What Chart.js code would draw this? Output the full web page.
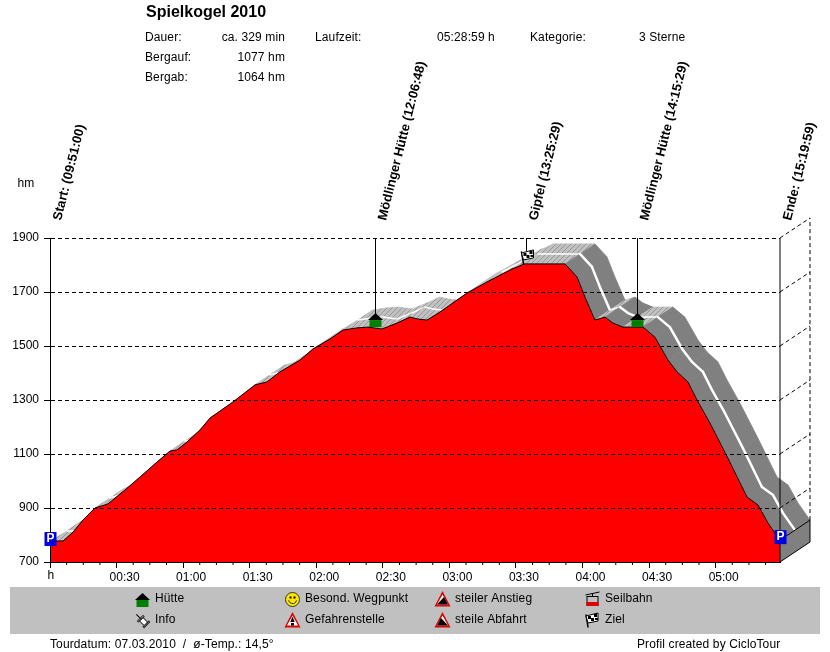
<!DOCTYPE html>
<html lang="de">
<head>
<meta charset="UTF-8">
<title>Spielkogel 2010</title>
<style>
    html, body { margin: 0; padding: 0; background: #fff; }
    canvas { display: block; }
</style>
</head>
<body>
<canvas id="profil" width="830" height="652"></canvas>
<script src="https://cdn.jsdelivr.net/npm/chart.js"></script>
<script>
// profile: minutes since start, height in hm
const minutes = [0, 1, 5.9, 10.4, 14.9, 20.3, 26.1, 33.8, 40.6, 48.2, 54.1, 57.2, 61.7, 67.6, 72.1, 82.5, 92.4, 97.8,
    103.6, 112.7, 118.5, 126.2, 132, 138.3, 143.3, 149.6, 156.4, 162.2, 165.8, 169.9, 175.8, 187.9, 196.9, 208.2,
    212.7, 213.2, 232.1, 237.5, 241.1, 245.6, 250.1, 253.7, 258.2, 267.2, 272.6, 278.5, 282.6, 287.5, 291.6,
    297.4, 305.5, 314.1, 319.1, 323.6, 329];
const heights = [774, 778, 778, 811, 856, 900, 915, 967, 1015, 1070, 1111, 1115, 1144, 1189, 1233, 1293, 1356, 1367,
    1404, 1448, 1489, 1526, 1559, 1567, 1570, 1563, 1585, 1607, 1600, 1596, 1626, 1696, 1737, 1785,
    1800, 1804, 1804, 1756, 1681, 1596, 1607, 1585, 1570, 1570, 1533, 1448, 1404, 1367, 1300,
    1215, 1085, 941, 911, 844, 781];

const xTickMinutes = [0, 30, 60, 90, 120, 150, 180, 210, 240, 270, 300];
const xTickLabels = ['h', '00:30', '01:00', '01:30', '02:00', '02:30', '03:00', '03:30', '04:00', '04:30', '05:00'];
const yTicks = [700, 900, 1100, 1300, 1500, 1700, 1900];

const markerLabels = ['Start: (09:51:00)', 'Mödlinger Hütte (12:06:48)', 'Gipfel (13:25:29)', 'Mödlinger Hütte (14:15:29)', 'Ende: (15:19:59)'];
const markerMinutes = [0, 146.4, 214.5, 264.4, 329];
const markerHeights = [774, 1570, 1804, 1570, 781];
const markerIcons = ['park', 'hut', 'flag', 'hut', 'park'];

const FONT = '"Liberation Sans", Arial, sans-serif';
const BAND_X = 30, BAND_Y = -20;   // depth of the 3d band in pixels

function text(ctx, str, x, y, align, font) {
    ctx.font = font || '12px ' + FONT;
    ctx.letterSpacing = font ? '0px' : '0.12px';
    ctx.fillStyle = '#000';
    ctx.textAlign = align || 'left';
    ctx.textBaseline = 'middle';
    ctx.fillText(str, x, y);
    ctx.letterSpacing = '0px';
}

function line(ctx, x0, y0, x1, y1, dash) {
    ctx.setLineDash(dash || []);
    ctx.lineWidth = 1;
    ctx.strokeStyle = '#000';
    ctx.beginPath();
    ctx.moveTo(x0, y0);
    ctx.lineTo(x1, y1);
    ctx.stroke();
    ctx.setLineDash([]);
}

function poly(ctx, pts, fill) {
    ctx.fillStyle = fill;
    ctx.beginPath();
    pts.forEach((p, i) => i ? ctx.lineTo(p[0], p[1]) : ctx.moveTo(p[0], p[1]));
    ctx.closePath();
    ctx.fill();
}

// icons
function hut(ctx, x, y) {       // x centre, y bottom
    ctx.fillStyle = '#008000';
    ctx.fillRect(x - 6, y - 7, 12, 7);
    poly(ctx, [[x, y - 14], [x - 7.5, y - 7], [x + 7.5, y - 7]], '#000');
}

function flag(ctx, x, y) {      // x,y = foot of the pole
    ctx.lineCap = 'round';
    ctx.strokeStyle = '#000';
    ctx.lineWidth = 1.5;
    ctx.beginPath(); ctx.moveTo(x, y); ctx.lineTo(x - 2, y - 12); ctx.stroke();
    ctx.lineCap = 'butt';
    poly(ctx, [[x - 2, y - 11], [x + 10, y - 14], [x + 10, y - 6], [x, y - 4]], '#fff');
    ctx.lineWidth = 1;
    ctx.beginPath();
    ctx.moveTo(x - 2, y - 11); ctx.lineTo(x + 10, y - 14); ctx.lineTo(x + 10, y - 6); ctx.lineTo(x, y - 4); ctx.closePath();
    ctx.stroke();
    ctx.fillStyle = '#000';
    ctx.fillRect(x, y - 11, 3, 3);
    ctx.fillRect(x + 6, y - 13, 3, 3);
    ctx.fillRect(x + 3, y - 9, 3, 3);
    ctx.fillRect(x + 7, y - 9, 3, 2);
}

function park(ctx, x, y) {
    ctx.fillStyle = '#0000e0';
    ctx.fillRect(x - 6, y - 7, 12, 14);
    ctx.fillStyle = '#fff';
    ctx.font = 'bold 12px ' + FONT;
    ctx.textAlign = 'center';
    ctx.textBaseline = 'middle';
    ctx.fillText('P', x, y);
}

function smiley(ctx, x, y) {
    ctx.fillStyle = '#ffe600';
    ctx.strokeStyle = '#333';
    ctx.lineWidth = 1;
    ctx.beginPath(); ctx.arc(x, y, 7, 0, Math.PI * 2); ctx.fill(); ctx.stroke();
    ctx.fillStyle = '#000';
    ctx.fillRect(x - 3, y - 3, 2, 2);
    ctx.fillRect(x + 1, y - 3, 2, 2);
    ctx.beginPath(); ctx.arc(x, y, 4, 0.2, Math.PI - 0.2); ctx.stroke();
}

function warn(ctx, x, y, kind) {
    poly(ctx, [[x, y - 8], [x + 8, y + 7.5], [x - 8, y + 7.5]], '#e00000');
    poly(ctx, [[x, y - 4.5], [x + 5.5, y + 5.5], [x - 5.5, y + 5.5]], '#fff');
    if (kind === 'danger') {
        poly(ctx, [[x, y - 3.5], [x + 2.2, y + 2], [x - 2.2, y + 2]], '#000');
        ctx.fillStyle = '#000';
        ctx.fillRect(x - 1.5, y + 3, 3, 2.5);
    } else if (kind === 'up') {
        poly(ctx, [[x - 5.5, y + 5.5], [x + 5.5, y + 5.5], [x + 1.5, y - 2]], '#000');
    } else {
        poly(ctx, [[x - 5.5, y + 5.5], [x + 5.5, y + 5.5], [x - 1.5, y - 2]], '#000');
    }
}

function cableCar(ctx, x, y) {
    line(ctx, x - 7, y - 4, x + 7, y - 7);
    line(ctx, x, y - 6, x, y - 3);
    ctx.strokeStyle = '#000';
    ctx.lineWidth = 1;
    ctx.strokeRect(x - 5.5, y - 2.5, 11, 9);
    ctx.fillStyle = '#e00000';
    ctx.fillRect(x - 6, y + 3, 12, 4);
}

function pin(ctx, x, y) {
    ctx.save();
    ctx.translate(x, y);
    ctx.rotate(Math.PI * 3 / 4);
    ctx.fillStyle = '#fff';
    ctx.strokeStyle = '#333';
    ctx.lineWidth = 1;
    ctx.fillRect(-2.5, -6, 5, 7);
    ctx.strokeRect(-2.5, -6, 5, 7);
    ctx.strokeRect(-4, -7, 8, 1.5);
    ctx.strokeRect(-4, 1, 8, 1.5);
    line(ctx, 0, 2, 0, 8);
    ctx.restore();
}

// silver with thin grey diagonal stripes
function hatchPattern(ctx) {
    const c = document.createElement('canvas');
    c.width = 5; c.height = 5;
    const p = c.getContext('2d');
    p.fillStyle = '#c0c0c0';
    p.fillRect(0, 0, 5, 5);
    p.fillStyle = '#989898';
    for (let i = 0; i < 5; i++) p.fillRect(i, 4 - i, 1, 1);
    return ctx.createPattern(c, 'repeat');
}

const bandPlugin = {
    id: 'band',
    beforeDatasetsDraw(chart) {
        const ctx = chart.ctx, xs = chart.scales.x, ys = chart.scales.y;
        const hatch = hatchPattern(ctx);
        const mid = [BAND_X / 2, BAND_Y / 2];
        for (let i = 0; i < minutes.length - 1; i++) {
            const x0 = xs.getPixelForValue(minutes[i]), y0 = ys.getPixelForValue(heights[i]);
            const x1 = xs.getPixelForValue(minutes[i + 1]), y1 = ys.getPixelForValue(heights[i + 1]);
            const slope = (y0 - y1) / (x1 - x0);
            const fill = slope > 0.55 ? '#c0c0c0' : slope > -0.25 ? hatch : '#808080';
            poly(ctx, [[x0, y0], [x1, y1], [x1 + BAND_X, y1 + BAND_Y], [x0 + BAND_X, y0 + BAND_Y]], fill);
            // close the antialiasing seams between neighbouring strips
            ctx.strokeStyle = fill;
            ctx.lineWidth = 0.8;
            ctx.stroke();
            if (slope <= 0.55) {
                ctx.strokeStyle = '#fff';
                ctx.lineWidth = slope < -0.25 ? 2.5 : 1.5;
                ctx.lineCap = 'round';
                ctx.beginPath();
                ctx.moveTo(x0 + mid[0], y0 + mid[1]);
                ctx.lineTo(x1 + mid[0], y1 + mid[1]);
                ctx.stroke();
                ctx.lineCap = 'butt';
            }
        }
    }
};

const overlayPlugin = {
    id: 'overlay',
    afterDraw(chart) {
        const ctx = chart.ctx, xs = chart.scales.x, ys = chart.scales.y;
        const left = xs.left, right = xs.right, top = ys.top, bottom = ys.bottom;

        // right hand wall of the 3d box
        const endY = ys.getPixelForValue(heights[heights.length - 1]);
        poly(ctx, [[right, bottom], [right + BAND_X, bottom + BAND_Y], [right + BAND_X, endY + BAND_Y], [right, endY]], '#808080');
        line(ctx, right, endY, right + BAND_X, endY + BAND_Y);
        line(ctx, right, bottom, right + BAND_X, bottom + BAND_Y);
        line(ctx, right + BAND_X, bottom + BAND_Y, right + BAND_X, endY + BAND_Y);
        line(ctx, right + BAND_X, endY + BAND_Y, right + BAND_X, top + BAND_Y, [4, 3]);
        yTicks.slice(1).forEach(v => {
            const y = ys.getPixelForValue(v);
            line(ctx, right, y, right + BAND_X, y + BAND_Y, [4, 3]);
        });
        line(ctx, right, top, right, bottom);

        // small ticks between the labelled ones
        for (let m = 7.5; m < minutes[minutes.length - 1]; m += 7.5) {
            if (m % 30) line(ctx, xs.getPixelForValue(m), bottom, xs.getPixelForValue(m), bottom + 3);
        }

        // markers and their slanted labels
        markerLabels.forEach((label, i) => {
            const x = Math.round(xs.getPixelForValue(markerMinutes[i])) + 0.5;
            const y = ys.getPixelForValue(markerHeights[i]);
            if (markerIcons[i] === 'hut') {
                line(ctx, x, top, x, y - 12);
                hut(ctx, x, y);
            } else if (markerIcons[i] === 'flag') {
                line(ctx, x, top, x, y - 13);
                flag(ctx, x - 3, y);
            } else {
                park(ctx, x, y - 3);
            }
            ctx.save();
            ctx.translate(x + 10.5, 221);
            ctx.rotate(-76 * Math.PI / 180);
            ctx.font = 'bold 13px ' + FONT;
            ctx.fillStyle = '#000';
            ctx.textAlign = 'left';
            ctx.textBaseline = 'alphabetic';
            ctx.fillText(label, 0, 0);
            ctx.restore();
        });

        text(ctx, xTickLabels[0], left + 1, 576, 'center');
        text(ctx, 'hm', 26, 184, 'center');

        // header
        text(ctx, 'Spielkogel 2010', 146, 13, 'left', 'bold 16px ' + FONT);
        text(ctx, 'Dauer:', 145, 38);
        text(ctx, 'Bergauf:', 145, 58);
        text(ctx, 'Bergab:', 145, 78);
        text(ctx, 'ca. 329 min', 285, 38, 'right');
        text(ctx, '1077 hm', 285, 58, 'right');
        text(ctx, '1064 hm', 285, 78, 'right');
        text(ctx, 'Laufzeit:', 315, 38);
        text(ctx, '05:28:59 h', 437, 38);
        text(ctx, 'Kategorie:', 530, 38);
        text(ctx, '3 Sterne', 639, 38);

        // legend
        ctx.fillStyle = '#c0c0c0';
        ctx.fillRect(10, 587, 810, 47);
        hut(ctx, 142.5, 607);
        text(ctx, 'Hütte', 155, 599);
        pin(ctx, 142, 620);
        text(ctx, 'Info', 155, 620);
        smiley(ctx, 292.5, 599.5);
        text(ctx, 'Besond. Wegpunkt', 305, 599);
        warn(ctx, 292.5, 620, 'danger');
        text(ctx, 'Gefahrenstelle', 305, 620);
        warn(ctx, 442.5, 599, 'up');
        text(ctx, 'steiler Anstieg', 455, 599);
        warn(ctx, 442.5, 620, 'down');
        text(ctx, 'steile Abfahrt', 455, 620);
        cableCar(ctx, 592.5, 599);
        text(ctx, 'Seilbahn', 605, 599);
        flag(ctx, 588, 627);
        text(ctx, 'Ziel', 605, 620);

        // footer
        text(ctx, 'Tourdatum: 07.03.2010  /  ø-Temp.: 14,5°', 50, 645);
        text(ctx, 'Profil created by CicloTour', 637, 645);
    }
};

new Chart(document.getElementById('profil'), {
    type: 'scatter',
    data: {
        datasets: [{
            data: minutes.map((m, i) => ({ x: m, y: heights[i] })),
            showLine: true,
            fill: 'start',
            backgroundColor: '#ff0000',
            borderColor: '#000',
            borderWidth: 1,
            pointRadius: 0,
            tension: 0
        }]
    },
    options: {
        responsive: false,
        animation: false,
        devicePixelRatio: 1,
        layout: { padding: { top: 238, right: 50, left: 0, bottom: 0 } },
        plugins: { legend: { display: false }, tooltip: { enabled: false } },
        scales: {
            x: {
                type: 'linear',
                min: 0,
                max: 329,
                afterBuildTicks: s => { s.ticks = xTickMinutes.map(v => ({ value: v })); },
                afterFit: s => { s.height = 90; },
                grid: { drawOnChartArea: false, color: '#000', tickColor: '#000', tickLength: 6 },
                border: { color: '#000', z: 1 },
                ticks: {
                    autoSkip: false,
                    maxRotation: 0,
                    labelOffset: 8,
                    padding: 2,
                    color: '#000',
                    font: { family: FONT, size: 12 },
                    callback: v => { const i = xTickMinutes.indexOf(v); return i > 0 ? xTickLabels[i] : ''; }
                }
            },
            y: {
                min: 700,
                max: 1900,
                afterBuildTicks: s => { s.ticks = yTicks.map(v => ({ value: v })); },
                afterFit: s => { s.width = 50; },
                grid: { color: '#000', tickColor: '#000', tickLength: 6, z: 1 },
                border: { color: '#000', dash: [4, 3], z: 1 },
                ticks: {
                    padding: 5,
                    color: '#000',
                    font: { family: FONT, size: 12 },
                    callback: v => String(v)
                }
            }
        }
    },
    plugins: [bandPlugin, overlayPlugin]
});
</script>
</body>
</html>
